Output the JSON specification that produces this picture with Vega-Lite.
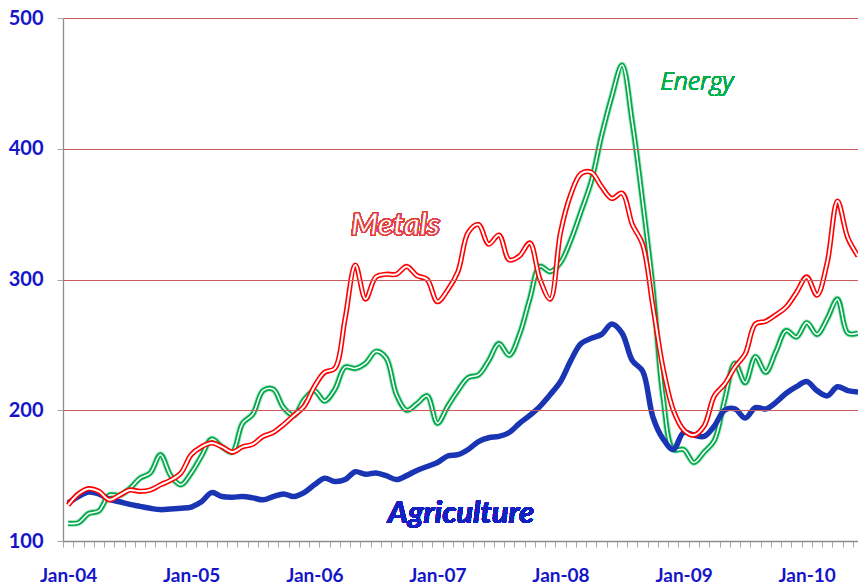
{
  "$schema": "https://vega.github.io/schema/vega-lite/v6.json",
  "width": 795,
  "height": 523,
  "autosize": {"type": "none"},
  "padding": {"left": 63, "top": 18, "right": 0, "bottom": 46},
  "background": "white",
  "config": {
    "view": {"stroke": null},
    "font": "Lato"
  },
  "data": {
    "values": [
      {"i": 0, "month": "2004-01", "Agriculture": 129, "Metals": 127.5, "Energy": 113.5},
      {"i": 1, "month": "2004-02", "Agriculture": 134, "Metals": 136, "Energy": 114},
      {"i": 2, "month": "2004-03", "Agriculture": 137.5, "Metals": 140, "Energy": 121},
      {"i": 3, "month": "2004-04", "Agriculture": 136, "Metals": 138, "Energy": 123},
      {"i": 4, "month": "2004-05", "Agriculture": 132, "Metals": 131.5, "Energy": 135},
      {"i": 5, "month": "2004-06", "Agriculture": 130, "Metals": 135, "Energy": 135},
      {"i": 6, "month": "2004-07", "Agriculture": 128, "Metals": 139, "Energy": 140},
      {"i": 7, "month": "2004-08", "Agriculture": 126.5, "Metals": 138, "Energy": 148},
      {"i": 8, "month": "2004-09", "Agriculture": 125, "Metals": 139, "Energy": 152},
      {"i": 9, "month": "2004-10", "Agriculture": 124, "Metals": 143, "Energy": 166},
      {"i": 10, "month": "2004-11", "Agriculture": 124.5, "Metals": 146.5, "Energy": 150},
      {"i": 11, "month": "2004-12", "Agriculture": 125, "Metals": 152, "Energy": 143},
      {"i": 12, "month": "2005-01", "Agriculture": 126, "Metals": 166, "Energy": 152},
      {"i": 13, "month": "2005-02", "Agriculture": 130, "Metals": 172, "Energy": 165},
      {"i": 14, "month": "2005-03", "Agriculture": 137, "Metals": 175, "Energy": 178},
      {"i": 15, "month": "2005-04", "Agriculture": 134, "Metals": 172, "Energy": 172},
      {"i": 16, "month": "2005-05", "Agriculture": 133.5, "Metals": 168, "Energy": 168},
      {"i": 17, "month": "2005-06", "Agriculture": 134, "Metals": 172, "Energy": 190},
      {"i": 18, "month": "2005-07", "Agriculture": 133, "Metals": 174, "Energy": 197},
      {"i": 19, "month": "2005-08", "Agriculture": 131.5, "Metals": 180, "Energy": 215},
      {"i": 20, "month": "2005-09", "Agriculture": 134, "Metals": 183, "Energy": 216},
      {"i": 21, "month": "2005-10", "Agriculture": 136, "Metals": 189, "Energy": 202},
      {"i": 22, "month": "2005-11", "Agriculture": 134, "Metals": 196, "Energy": 196},
      {"i": 23, "month": "2005-12", "Agriculture": 137, "Metals": 203, "Energy": 208},
      {"i": 24, "month": "2006-01", "Agriculture": 143, "Metals": 218, "Energy": 215},
      {"i": 25, "month": "2006-02", "Agriculture": 148, "Metals": 229, "Energy": 207},
      {"i": 26, "month": "2006-03", "Agriculture": 145.5, "Metals": 232, "Energy": 216},
      {"i": 27, "month": "2006-04", "Agriculture": 147, "Metals": 270, "Energy": 233},
      {"i": 28, "month": "2006-05", "Agriculture": 153, "Metals": 311, "Energy": 232},
      {"i": 29, "month": "2006-06", "Agriculture": 151, "Metals": 285, "Energy": 236},
      {"i": 30, "month": "2006-07", "Agriculture": 152, "Metals": 302, "Energy": 245},
      {"i": 31, "month": "2006-08", "Agriculture": 150, "Metals": 304, "Energy": 240},
      {"i": 32, "month": "2006-09", "Agriculture": 147, "Metals": 304, "Energy": 212},
      {"i": 33, "month": "2006-10", "Agriculture": 150, "Metals": 310, "Energy": 200},
      {"i": 34, "month": "2006-11", "Agriculture": 154, "Metals": 303, "Energy": 205},
      {"i": 35, "month": "2006-12", "Agriculture": 157, "Metals": 300, "Energy": 211},
      {"i": 36, "month": "2007-01", "Agriculture": 160, "Metals": 283, "Energy": 190},
      {"i": 37, "month": "2007-02", "Agriculture": 165, "Metals": 292, "Energy": 203},
      {"i": 38, "month": "2007-03", "Agriculture": 166, "Metals": 306, "Energy": 215},
      {"i": 39, "month": "2007-04", "Agriculture": 170, "Metals": 336, "Energy": 225},
      {"i": 40, "month": "2007-05", "Agriculture": 176, "Metals": 342, "Energy": 227},
      {"i": 41, "month": "2007-06", "Agriculture": 179, "Metals": 327, "Energy": 238},
      {"i": 42, "month": "2007-07", "Agriculture": 180, "Metals": 334, "Energy": 251},
      {"i": 43, "month": "2007-08", "Agriculture": 183, "Metals": 315, "Energy": 242},
      {"i": 44, "month": "2007-09", "Agriculture": 190, "Metals": 318, "Energy": 258},
      {"i": 45, "month": "2007-10", "Agriculture": 196, "Metals": 328, "Energy": 285},
      {"i": 46, "month": "2007-11", "Agriculture": 203, "Metals": 300, "Energy": 310},
      {"i": 47, "month": "2007-12", "Agriculture": 212, "Metals": 285, "Energy": 306},
      {"i": 48, "month": "2008-01", "Agriculture": 222, "Metals": 336, "Energy": 313},
      {"i": 49, "month": "2008-02", "Agriculture": 238, "Metals": 365, "Energy": 330},
      {"i": 50, "month": "2008-03", "Agriculture": 251, "Metals": 381, "Energy": 352},
      {"i": 51, "month": "2008-04", "Agriculture": 255, "Metals": 382, "Energy": 375},
      {"i": 52, "month": "2008-05", "Agriculture": 258, "Metals": 371, "Energy": 410},
      {"i": 53, "month": "2008-06", "Agriculture": 266, "Metals": 362, "Energy": 440},
      {"i": 54, "month": "2008-07", "Agriculture": 259, "Metals": 366, "Energy": 464},
      {"i": 55, "month": "2008-08", "Agriculture": 238, "Metals": 342, "Energy": 420},
      {"i": 56, "month": "2008-09", "Agriculture": 230, "Metals": 327, "Energy": 360},
      {"i": 57, "month": "2008-10", "Agriculture": 195, "Metals": 280, "Energy": 294},
      {"i": 58, "month": "2008-11", "Agriculture": 178, "Metals": 232, "Energy": 210},
      {"i": 59, "month": "2008-12", "Agriculture": 170, "Metals": 200, "Energy": 170},
      {"i": 60, "month": "2009-01", "Agriculture": 183, "Metals": 185, "Energy": 170},
      {"i": 61, "month": "2009-02", "Agriculture": 181, "Metals": 181, "Energy": 160},
      {"i": 62, "month": "2009-03", "Agriculture": 180, "Metals": 188, "Energy": 168},
      {"i": 63, "month": "2009-04", "Agriculture": 188, "Metals": 211, "Energy": 177},
      {"i": 64, "month": "2009-05", "Agriculture": 200, "Metals": 220, "Energy": 208},
      {"i": 65, "month": "2009-06", "Agriculture": 201, "Metals": 233, "Energy": 236},
      {"i": 66, "month": "2009-07", "Agriculture": 194, "Metals": 243, "Energy": 221},
      {"i": 67, "month": "2009-08", "Agriculture": 202, "Metals": 266, "Energy": 241},
      {"i": 68, "month": "2009-09", "Agriculture": 201, "Metals": 268, "Energy": 229},
      {"i": 69, "month": "2009-10", "Agriculture": 206, "Metals": 273, "Energy": 245},
      {"i": 70, "month": "2009-11", "Agriculture": 213, "Metals": 279, "Energy": 261},
      {"i": 71, "month": "2009-12", "Agriculture": 218, "Metals": 290, "Energy": 256},
      {"i": 72, "month": "2010-01", "Agriculture": 222, "Metals": 302, "Energy": 267},
      {"i": 73, "month": "2010-02", "Agriculture": 215, "Metals": 288, "Energy": 258},
      {"i": 74, "month": "2010-03", "Agriculture": 211, "Metals": 313, "Energy": 270},
      {"i": 75, "month": "2010-04", "Agriculture": 218, "Metals": 360, "Energy": 285},
      {"i": 76, "month": "2010-05", "Agriculture": 215, "Metals": 332, "Energy": 259},
      {"i": 77, "month": "2010-06", "Agriculture": 214, "Metals": 318, "Energy": 259}
    ]
  },
  "encoding": {
    "x": {
      "field": "i",
      "type": "quantitative",
      "scale": {"domain": [-0.5, 77], "nice": false, "zero": false},
      "axis": {
        "title": null,
        "values": [-0.5,0.5,1.5,2.5,3.5,4.5,5.5,6.5,7.5,8.5,9.5,10.5,11.5,12.5,13.5,14.5,15.5,16.5,17.5,18.5,19.5,20.5,21.5,22.5,23.5,24.5,25.5,26.5,27.5,28.5,29.5,30.5,31.5,32.5,33.5,34.5,35.5,36.5,37.5,38.5,39.5,40.5,41.5,42.5,43.5,44.5,45.5,46.5,47.5,48.5,49.5,50.5,51.5,52.5,53.5,54.5,55.5,56.5,57.5,58.5,59.5,60.5,61.5,62.5,63.5,64.5,65.5,66.5,67.5,68.5,69.5,70.5,71.5,72.5,73.5,74.5,75.5,76.5],
        "labelExpr": "(datum.value + 0.5) % 12 == 0 ? 'Jan-' + ((datum.value + 0.5) / 12 + 4 < 10 ? '0' : '') + ((datum.value + 0.5) / 12 + 4) : ''",
        "labelOffset": 5.1,
        "labelOverlap": false,
        "labelFlush": false,
        "labelBound": false,
        "labelFont": "Lato",
        "labelFontSize": 19,
        "labelFontWeight": "bold",
        "labelColor": "#1414c8",
        "labelPadding": 19,
        "tickSize": 6,
        "tickColor": "#a6a6a6",
        "domainColor": "#8c8c8c",
        "domainWidth": 1.3,
        "grid": false,
        "zindex": 2
      }
    },
    "y": {
      "type": "quantitative",
      "scale": {"domain": [100, 500], "nice": false, "zero": false},
      "axis": {
        "title": null,
        "values": [100, 200, 300, 400, 500],
        "labelFont": "Lato",
        "labelFontSize": 20,
        "labelFontWeight": "bold",
        "labelColor": "#1414c8",
        "labelPadding": 14,
        "tickSize": 6,
        "tickColor": "#a6a6a6",
        "domainColor": "#8c8c8c",
        "domainWidth": 1.3,
        "grid": true,
        "gridColor": "#cc5c5c",
        "gridWidth": 1.2,
        "zindex": 1
      }
    }
  },
  "layer": [
    {"mark": {"type": "line", "interpolate": "catmull-rom", "color": "#00b050", "strokeWidth": 7, "opacity": 0.3, "clip": true}, "encoding": {"y": {"field": "Energy", "type": "quantitative"}}},
    {"mark": {"type": "line", "interpolate": "catmull-rom", "color": "#00a84a", "strokeWidth": 5, "clip": true}, "encoding": {"y": {"field": "Energy", "type": "quantitative"}}},
    {"mark": {"type": "line", "interpolate": "catmull-rom", "color": "#ffffff", "strokeWidth": 1.6, "clip": true}, "encoding": {"y": {"field": "Energy", "type": "quantitative"}}},
    {"mark": {"type": "line", "interpolate": "catmull-rom", "color": "#1a35b4", "strokeWidth": 5.5, "clip": true}, "encoding": {"y": {"field": "Agriculture", "type": "quantitative"}}},
    {"mark": {"type": "line", "interpolate": "catmull-rom", "color": "#ff0000", "strokeWidth": 5.2, "clip": true}, "encoding": {"y": {"field": "Metals", "type": "quantitative"}}},
    {"mark": {"type": "line", "interpolate": "catmull-rom", "color": "#ffffff", "strokeWidth": 2, "clip": true}, "encoding": {"y": {"field": "Metals", "type": "quantitative"}}},
    {
      "mark": {"type": "text", "text": "Metals", "font": "Lato", "fontSize": 31, "fontStyle": "italic", "fontWeight": "bold", "fill": "#ffffff", "stroke": "#e03c3c", "strokeWidth": 1.2, "align": "center", "baseline": "middle"},
      "encoding": {"x": {"datum": 31.9}, "y": {"datum": 341}}
    },
    {
      "mark": {"type": "text", "text": "Energy", "font": "Open Sans", "fontSize": 25, "fontStyle": "italic", "fontWeight": 300, "fill": "#00b050", "stroke": null, "strokeWidth": 0, "align": "center", "baseline": "middle", "letterSpacing": 2.5},
      "encoding": {"x": {"datum": 61.3}, "y": {"datum": 451}}
    },
    {
      "mark": {"type": "text", "text": "Agriculture", "font": "Lato", "fontSize": 31, "fontStyle": "italic", "fontWeight": "bold", "color": "#1420c0", "align": "center", "baseline": "middle"},
      "encoding": {"x": {"datum": 38.3}, "y": {"datum": 120.6}}
    }
  ]
}
